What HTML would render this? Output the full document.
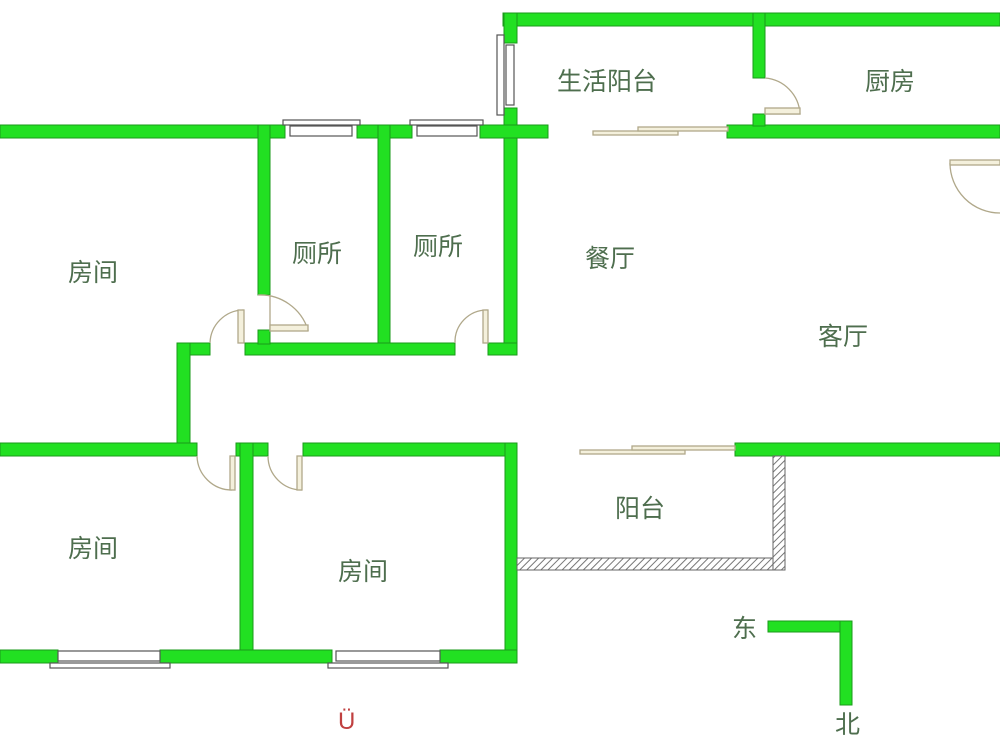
<!DOCTYPE html>
<html><head><meta charset="utf-8"><style>
html,body{margin:0;padding:0;background:#fff;width:1000px;height:750px;overflow:hidden}
svg text{font-family:"Liberation Sans","Noto Sans CJK SC",sans-serif;font-size:25px;fill:#4e6e4e}
</style></head><body>
<svg width="1000" height="750" viewBox="0 0 1000 750" xmlns="http://www.w3.org/2000/svg">
<defs>
<pattern id="h" width="5" height="5" patternUnits="userSpaceOnUse" patternTransform="rotate(45)">
<rect width="5" height="5" fill="#fff"/><line x1="0" y1="0" x2="0" y2="5" stroke="#777" stroke-width="2"/></pattern>
</defs>
<g fill="#22e022" stroke="#1a9a1a" stroke-width="1">
<rect x="503" y="13" width="497" height="13"/>
<rect x="504" y="13" width="13" height="30"/>
<rect x="504" y="108" width="13" height="247"/>
<rect x="0" y="125" width="285" height="13"/>
<rect x="357" y="125" width="55" height="13"/>
<rect x="480" y="125" width="68" height="13"/>
<rect x="727" y="125" width="273" height="13"/>
<rect x="753" y="13" width="12" height="65"/>
<rect x="753" y="114" width="12" height="12"/>
<rect x="258" y="125" width="12" height="170"/>
<rect x="378" y="125" width="12" height="225"/>
<rect x="245" y="343" width="210" height="12"/>
<rect x="488" y="343" width="29" height="12"/>
<rect x="258" y="330" width="12" height="14"/>
<rect x="177" y="343" width="33" height="12"/>
<rect x="177" y="343" width="13" height="112"/>
<rect x="0" y="443" width="197" height="13"/>
<rect x="236" y="443" width="32" height="13"/>
<rect x="303" y="443" width="214" height="13"/>
<rect x="735" y="443" width="265" height="13"/>
<rect x="240" y="443" width="13" height="219"/>
<rect x="505" y="443" width="12" height="220"/>
<rect x="0" y="650" width="58" height="13"/>
<rect x="160" y="650" width="172" height="13"/>
<rect x="440" y="650" width="77" height="13"/>
<rect x="768" y="621" width="84" height="11"/>
<rect x="840" y="621" width="12" height="84"/>
</g>
<rect x="517" y="558" width="268" height="12" fill="url(#h)" stroke="#666"/>
<rect x="773" y="456" width="12" height="114" fill="url(#h)" stroke="#666"/>
<g fill="#fff" stroke="#555" stroke-width="1.2">
<rect x="283" y="120" width="77" height="5"/><rect x="290" y="126" width="62" height="10"/>
<rect x="410" y="120" width="73" height="5"/><rect x="417" y="126" width="60" height="10"/>
<rect x="497" y="35" width="7" height="80"/><rect x="506" y="45" width="8" height="60"/>
<rect x="50" y="663" width="120" height="5"/><rect x="58" y="651" width="102" height="10"/>
<rect x="328" y="663" width="120" height="5"/><rect x="336" y="651" width="104" height="10"/>
</g>
<g fill="none" stroke="#b0a88a" stroke-width="1.3">
<path d="M258 295 A50 50 0 0 1 308 330 L270 330 L270 295"/>
<rect x="270" y="325" width="38" height="6" fill="#f4f0dc"/>
<path d="M210 343 A34 34 0 0 1 243 310 L243 343"/>
<rect x="238" y="310" width="6" height="33" fill="#f4f0dc"/>
<path d="M455 343 A32 32 0 0 1 487 310 L487 343"/>
<rect x="483" y="310" width="5" height="33" fill="#f4f0dc"/>
<path d="M197 456 A35 35 0 0 0 232 490"/>
<rect x="230" y="456" width="5" height="34" fill="#f4f0dc"/>
<path d="M268 456 A34 34 0 0 0 302 490"/>
<rect x="297" y="456" width="5" height="34" fill="#f4f0dc"/>
<path d="M765 78 A38 38 0 0 1 800 114 L765 114"/>
<rect x="765" y="108" width="35" height="6" fill="#f4f0dc"/>
<path d="M950 163 A50 50 0 0 0 1000 213"/>
<rect x="950" y="160" width="50" height="5" fill="#f4f0dc"/>
<rect x="593" y="131" width="85" height="4" fill="#f4f0dc"/>
<rect x="638" y="127" width="90" height="4" fill="#f4f0dc"/>
<rect x="580" y="450" width="105" height="4" fill="#f4f0dc"/>
<rect x="632" y="446" width="103" height="4" fill="#f4f0dc"/>
</g>
<text x="68" y="281">房间</text>
<text x="292" y="262">厕所</text>
<text x="413" y="255">厕所</text>
<text x="585" y="267">餐厅</text>
<text x="818" y="345">客厅</text>
<text x="68" y="557">房间</text>
<text x="338" y="580">房间</text>
<text x="615" y="517">阳台</text>
<text x="557" y="90">生活阳台</text>
<text x="865" y="90">厨房</text>
<text x="732" y="637">东</text>
<text x="835" y="733">北</text>
<text x="338" y="729" style="font-size:24px;fill:#c04040">Ü</text>
</svg>
</body></html>
